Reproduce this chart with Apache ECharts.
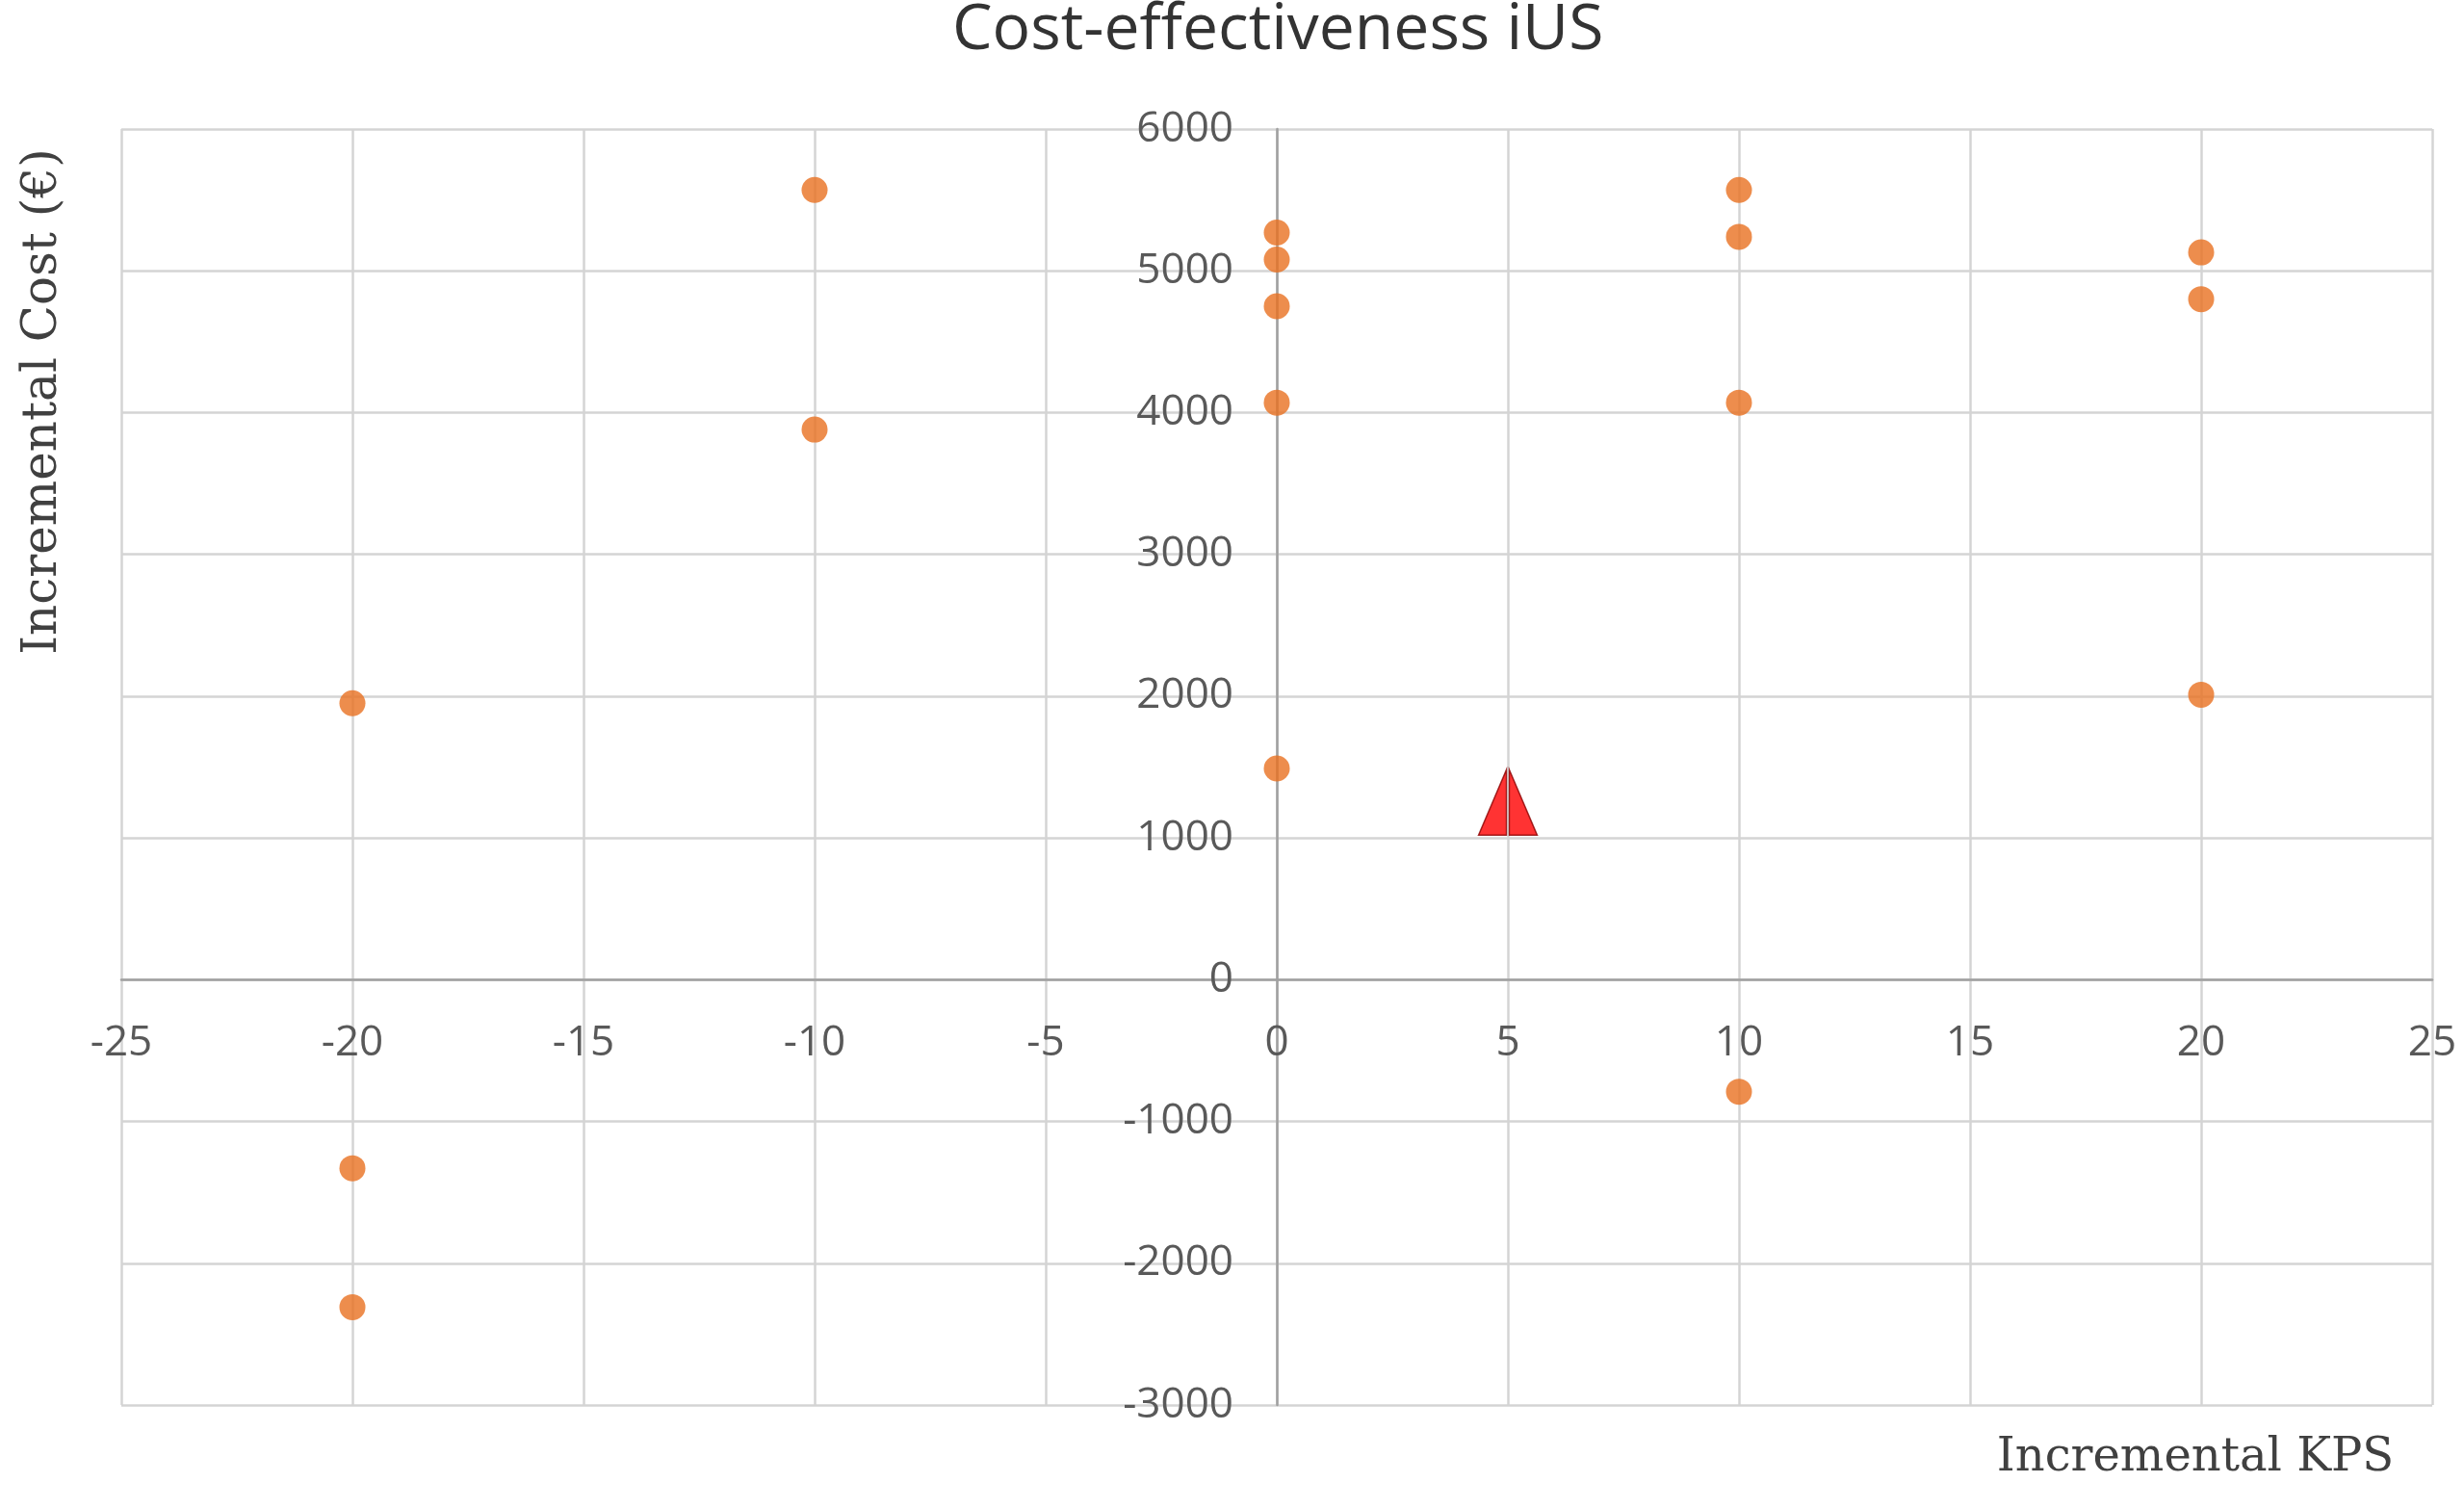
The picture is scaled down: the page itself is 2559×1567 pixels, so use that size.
<!DOCTYPE html>
<html>
<head>
<meta charset="utf-8">
<title>Cost-effectiveness iUS</title>
<script src="https://cdn.jsdelivr.net/npm/echarts@6/dist/echarts.min.js"></script>
<style>
  html, body { margin: 0; padding: 0; background: #fff; }
  #graph { width: 2559px; height: 1567px; }
</style>
</head>
<body>
<div id="graph"></div>
<script>
  // scenario points: incremental KPS (x) and incremental cost in euro (y)
  var kps = [-20, -20, -20, -10, -10, 0, 0, 0, 0, 0, 10, 10, 10, 10, 20, 20, 20];
  var cost = [1950, -1330, -2310, 5570, 3880, 5270, 5080, 4750, 4070, 1490, 5570, 5240, 4070, -790, 5130, 4800, 2010];
  // reference point (red triangle)
  var refKps = [5];
  var refCost = [1250];

  var pts = kps.map(function (k, i) { return [k, cost[i]]; });
  var refPts = refKps.map(function (k, i) { return [k, refCost[i]]; });

  // grid edges in px, axes are pushed in so they cross at (0,0)
  var gLeft = 126, gRight = 33, gTop = 134, gBottom = 108;
  var W = 2559, H = 1567;
  var plotW = W - gLeft - gRight, plotH = H - gTop - gBottom;
  var yAxisShift = plotW * (25 / 50);        // x = 0 sits halfway
  var xAxisShift = plotH * (3000 / 9000);    // y = 0 sits 3000 above bottom

  var labelFont = "'Open Sans', sans-serif";
  var myChart = echarts.init(document.getElementById('graph'));
  var option = {
    animation: false,
    title: {
      text: 'Cost-effectiveness iUS',
      left: 984,
      top: -6,
      textStyle: {
        fontFamily: "'Open Sans', sans-serif",
        fontWeight: 'normal',
        fontSize: 66,
        color: '#333333'
      }
    },
    grid: {
      left: gLeft,
      right: gRight,
      top: gTop,
      bottom: gBottom,
      containLabel: false
    },
    xAxis: {
      type: 'value',
      min: -25,
      max: 25,
      interval: 5,
      offset: -xAxisShift,
      axisLine: { onZero: false, lineStyle: { color: '#a0a0a0', width: 2.5 } },
      axisTick: { show: false },
      splitLine: { show: true, lineStyle: { color: '#d4d4d4', width: 2.5 } },
      axisLabel: {
        margin: 44,
        fontFamily: labelFont,
        fontSize: 44,
        color: '#595959',
        showMinLabel: true,
        showMaxLabel: true,
        formatter: function (v) { return String(v); }
      }
    },
    yAxis: {
      type: 'value',
      min: -3000,
      max: 6000,
      interval: 1000,
      offset: -yAxisShift,
      axisLine: { onZero: false, lineStyle: { color: '#a0a0a0', width: 2.5 } },
      axisTick: { show: false },
      splitLine: { show: true, lineStyle: { color: '#d4d4d4', width: 2.5 } },
      axisLabel: {
        margin: 45,
        fontFamily: labelFont,
        fontSize: 44,
        color: '#595959',
        formatter: function (v) { return String(v); }
      }
    },
    graphic: [
      {
        type: 'text',
        x: 45,
        y: 417,
        rotation: Math.PI / 2,
        style: {
          text: 'Incremental Cost (€)',
          font: "50px 'DejaVu Serif', serif",
          fill: '#404040',
          textAlign: 'center',
          textVerticalAlign: 'middle'
        }
      },
      {
        type: 'text',
        x: 2280,
        y: 1515,
        style: {
          text: 'Incremental KPS',
          font: "48px 'DejaVu Serif', serif",
          fill: '#404040',
          textAlign: 'center',
          textVerticalAlign: 'middle'
        }
      }
    ],
    series: [
      {
        name: 'Scenarios',
        type: 'scatter',
        data: pts,
        symbol: 'circle',
        symbolSize: 27,
        itemStyle: { color: '#e87020' },
        z: 3
      },
      {
        name: 'Reference',
        type: 'scatter',
        data: refPts,
        symbol: 'path://M0,68 L29,0 L29,68 Z M32,0 L61,68 L32,68 Z',
        symbolSize: [61, 68],
        itemStyle: { color: '#ff0000', borderColor: '#8b0000', borderWidth: 1.5 },
        z: 4
      }
    ]
  };
  myChart.setOption(option);
</script>
</body>
</html>
